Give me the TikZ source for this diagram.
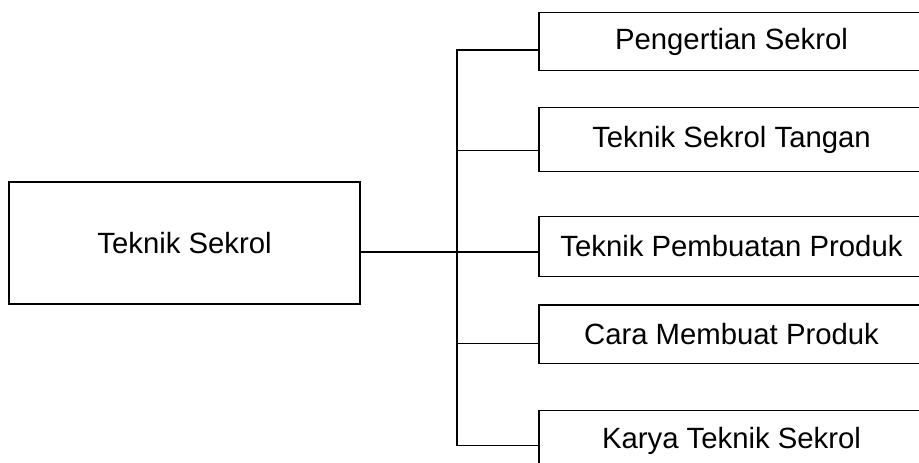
\documentclass[tikz,border=0pt]{standalone}
\usepackage{fontspec}
\setmainfont{Liberation Sans}
\begin{document}
\begin{tikzpicture}[x=1pt,y=-1pt,
  box/.style={draw=black,line width=1.3pt,rectangle,inner sep=0pt,align=center,
    font=\fontsize{29.3}{34}\selectfont},
  conn/.style={draw=black,line width=1.3pt}]
\useasboundingbox (0,0) rectangle (919,463);
\clip (0,0) rectangle (919,463);
\node[box,minimum width=351pt,minimum height=122pt] (main) at (184.5,243) {Teknik Sekrol};
\node[box,minimum width=385pt,minimum height=58.4pt] (b1) at (731.5,41.5) {Pengertian Sekrol};
\node[box,minimum width=385pt,minimum height=64pt] (b2) at (731.5,139.7) {Teknik Sekrol Tangan};
\node[box,minimum width=385pt,minimum height=59.6pt] (b3) at (731.5,246.5) {Teknik Pembuatan Produk};
\node[box,minimum width=385pt,minimum height=58.7pt] (b4) at (731.5,334.3) {Cara Membuat Produk};
\node[box,minimum width=385pt,minimum height=60pt] (b5) at (731.5,440.7) {Karya Teknik Sekrol};
\coordinate (t1) at (457,50);
\coordinate (t2) at (457,150.3);
\coordinate (t3) at (457,252);
\coordinate (t4) at (457,343.3);
\coordinate (t5) at (457,445.3);
\draw[conn] (main.east |- t3) -- (b3.west |- t3);
\draw[conn] (b1.west |- t1) -- (t1) -- (t5) -- (b5.west |- t5);
\draw[conn] (t2) -- (b2.west |- t2);
\draw[conn] (t4) -- (b4.west |- t4);
\end{tikzpicture}
\end{document}
